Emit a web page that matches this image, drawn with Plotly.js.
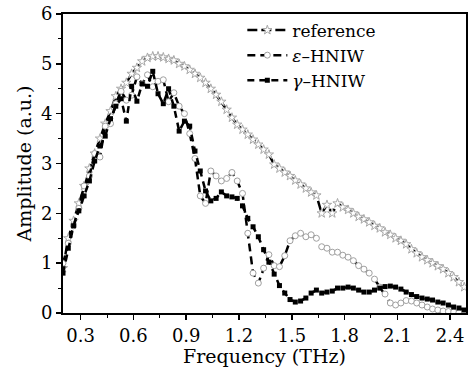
<!DOCTYPE html>
<html>
<head>
<meta charset="utf-8">
<script src="https://cdn.plot.ly/plotly-3.0.1.min.js"></script>
<style>html,body{margin:0;padding:0;background:#fff;}#chart{width:468px;height:367px;}</style>
</head>
<body>
<div id="chart"></div>
<script>
const freq = [0.20,0.23,0.26,0.29,0.32,0.35,0.38,0.41,0.44,0.47,0.50,0.53,0.56,0.59,0.62,0.65,0.68,0.71,0.74,0.77,0.80,0.83,0.86,0.89,0.92,0.95,0.98,1.01,1.04,1.07,1.10,1.13,1.16,1.19,1.22,1.25,1.28,1.31,1.34,1.37,1.40,1.43,1.46,1.49,1.52,1.55,1.58,1.61,1.64,1.67,1.70,1.73,1.76,1.79,1.82,1.85,1.88,1.91,1.94,1.97,2.00,2.03,2.06,2.09,2.12,2.15,2.18,2.21,2.24,2.27,2.30,2.33,2.36,2.39,2.42,2.45,2.48];

const reference = [0.90,1.50,1.85,2.20,2.55,2.90,3.20,3.50,3.80,4.05,4.35,4.50,4.62,4.80,4.92,5.05,5.12,5.15,5.15,5.13,5.10,5.07,5.00,4.95,4.88,4.80,4.72,4.62,4.50,4.38,4.24,4.08,3.92,3.78,3.68,3.58,3.48,3.38,3.28,3.18,2.98,2.90,2.82,2.75,2.66,2.58,2.50,2.42,2.36,2.00,2.17,2.00,2.20,2.12,2.07,2.00,1.93,1.88,1.82,1.75,1.70,1.62,1.57,1.50,1.45,1.38,1.28,1.20,1.12,1.06,1.00,0.94,0.88,0.80,0.72,0.62,0.52];

const epsHNIW = [1.00,1.40,1.75,2.10,2.55,2.75,3.20,3.13,3.75,3.80,4.20,4.45,4.27,4.37,4.74,4.60,4.78,4.54,4.65,4.68,4.24,4.42,4.15,4.00,3.60,3.10,2.35,2.20,2.85,2.75,2.65,2.70,2.82,2.65,2.40,1.60,0.80,0.60,0.90,1.17,0.95,0.93,1.15,1.45,1.55,1.60,1.53,1.57,1.50,1.33,1.30,1.22,1.22,1.16,1.12,1.05,0.95,0.88,0.80,0.68,0.52,0.38,0.20,0.16,0.20,0.25,0.24,0.20,0.16,0.12,0.08,0.06,0.04,0.03,0.02,0.01,0.00];

const gamHNIW = [0.80,1.30,1.75,2.05,2.35,2.65,3.05,3.35,3.55,3.90,4.15,4.30,3.85,4.55,4.25,4.60,4.55,4.85,4.40,4.20,4.50,4.15,3.65,3.85,3.75,3.25,2.85,2.45,2.25,2.30,2.43,2.35,2.33,2.30,2.15,1.90,1.73,1.53,1.27,1.02,0.78,0.55,0.40,0.27,0.22,0.24,0.30,0.40,0.46,0.40,0.42,0.44,0.50,0.50,0.52,0.50,0.46,0.42,0.42,0.46,0.50,0.53,0.54,0.52,0.48,0.42,0.37,0.33,0.30,0.28,0.26,0.22,0.20,0.16,0.12,0.10,0.06];

const seriesNames = ['reference', '<i>ε</i>–HNIW', '<i>γ</i>–HNIW'];
const xTicks = [0.3,0.6,0.9,1.2,1.5,1.8,2.1,2.4];
const yTicks = [0,1,2,3,4,5,6];

const font = 'DejaVu Serif, Liberation Serif, serif';

const traces = [
  {x: freq, y: reference, name: seriesNames[0], mode: 'lines+markers', type: 'scatter',
   line: {color: '#000', width: 2.5, dash: '10px,4px'},
   marker: {symbol: 'star', size: 7, color: '#fff', line: {color: '#a8a8a8', width: 1}}},
  {x: freq, y: epsHNIW, name: seriesNames[1], mode: 'lines+markers', type: 'scatter',
   line: {color: '#000', width: 2.5, dash: '8px,5px'},
   marker: {symbol: 'circle', size: 6, color: '#fff', line: {color: '#a0a0a0', width: 1}}},
  {x: freq, y: gamHNIW, name: seriesNames[2], mode: 'lines+markers', type: 'scatter',
   line: {color: '#000', width: 2.5, dash: '7px,5px'},
   marker: {symbol: 'square', size: 5, color: '#000', line: {width: 0}}}
];

const layout = {
  width: 468, height: 367,
  margin: {l: 63, r: 2, t: 14, b: 54},
  paper_bgcolor: '#fff', plot_bgcolor: '#fff',
  font: {family: font, size: 18, color: '#000'},
  showlegend: true,
  legend: {x: 0.445, y: 1.005, xanchor: 'left', yanchor: 'top', bgcolor: 'rgba(0,0,0,0)',
           font: {family: font, size: 17, color: '#000'}, itemwidth: 40, tracegroupgap: 0},
  xaxis: {
    range: [0.2, 2.49], tickvals: xTicks, ticktext: xTicks.map(v => v.toFixed(1)),
    ticks: 'outside', ticklen: 5, tickwidth: 1.5, tickcolor: '#000',
    showline: true, linecolor: '#000', linewidth: 2, mirror: true,
    showgrid: false, zeroline: false,
    minor: {dtick: 0.15, tick0: 0.15, ticks: 'outside', ticklen: 3, tickcolor: '#000', tickwidth: 1, showgrid: false},
    title: {text: 'Frequency (THz)', font: {family: font, size: 19}, standoff: 1},
    tickfont: {family: font, size: 18}
  },
  yaxis: {
    range: [0, 6], tickvals: yTicks,
    ticks: 'outside', ticklen: 5, tickwidth: 1.5, tickcolor: '#000',
    showline: true, linecolor: '#000', linewidth: 2, mirror: true,
    showgrid: false, zeroline: false,
    minor: {dtick: 0.5, ticks: 'outside', ticklen: 3, tickcolor: '#000', tickwidth: 1, showgrid: false},
    title: {text: 'Amplitude (a.u.)', font: {family: font, size: 19}, standoff: 4},
    tickfont: {family: font, size: 18}
  }
};

Plotly.newPlot('chart', traces, layout, {displayModeBar: false, staticPlot: true});
</script>
</body>
</html>
